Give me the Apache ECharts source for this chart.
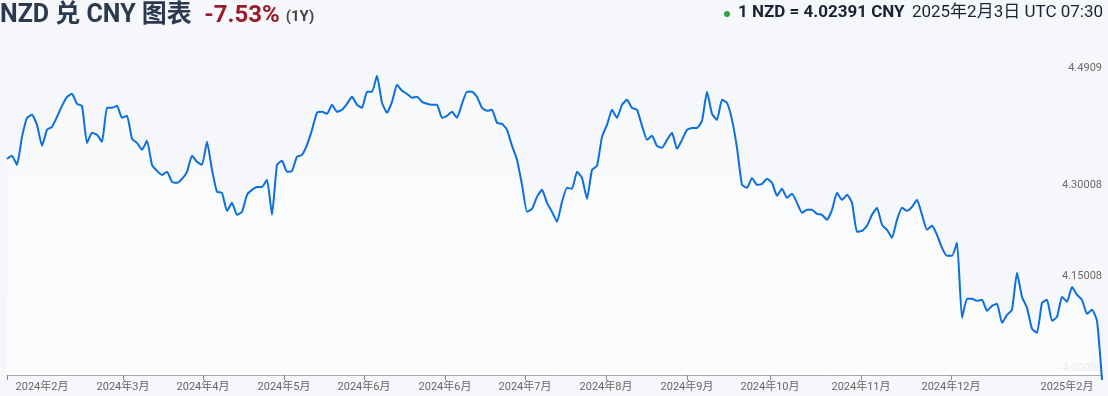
<!DOCTYPE html>
<html>
<head>
<meta charset="utf-8">
<script src="https://cdn.jsdelivr.net/npm/echarts@6/dist/echarts.min.js"></script>
<style>
html,body{margin:0;padding:0;background:#f5f7fa;}
#chart{width:1108px;height:396px;}
</style>
</head>
<body>
<div id="chart"></div>
<script>
// NZD -> CNY rate, one reading per step across the year
const rates = [
4.3402,4.3451,4.3304,4.3761,4.4072,4.4121,4.3957,4.3614,4.3876,4.3925,
4.4088,4.4268,4.4415,4.4464,4.4301,4.4268,4.3663,4.3827,4.3794,4.3680,
4.4235,4.4235,4.4268,4.4072,4.4105,4.3729,4.3663,4.3549,4.3696,4.3304,
4.3206,4.3140,4.3190,4.3026,4.3010,4.3075,4.3190,4.3451,4.3353,4.3304,
4.3680,4.3222,4.2863,4.2846,4.2552,4.2683,4.2487,4.2536,4.2814,4.2895,
4.2944,4.2944,4.3059,4.2487,4.3304,4.3369,4.3190,4.3206,4.3435,4.3467,
4.3631,4.3876,4.4154,4.4170,4.4137,4.4284,4.4170,4.4203,4.4301,4.4415,
4.4284,4.4235,4.4497,4.4497,4.4758,4.4317,4.4154,4.4333,4.4611,4.4513,
4.4464,4.4399,4.4415,4.4333,4.4301,4.4284,4.4284,4.4072,4.4105,4.4170,
4.4072,4.4301,4.4497,4.4497,4.4415,4.4235,4.4186,4.4203,4.3990,4.3974,
4.3876,4.3614,4.3386,4.2977,4.2536,4.2585,4.2781,4.2895,4.2683,4.2536,
4.2373,4.2699,4.2928,4.2912,4.3190,4.3091,4.2748,4.3222,4.3288,4.3761,
4.3957,4.4203,4.4072,4.4284,4.4366,4.4235,4.4203,4.3941,4.3712,4.3778,
4.3614,4.3582,4.3712,4.3827,4.3565,4.3712,4.3876,4.3908,4.3908,4.4023,
4.4497,4.4137,4.4039,4.4366,4.4317,4.4039,4.3582,4.2977,4.2928,4.3091,
4.2977,4.2993,4.3075,4.3010,4.2797,4.2912,4.2765,4.2830,4.2683,4.2520,
4.2569,4.2569,4.2503,4.2487,4.2405,4.2569,4.2846,4.2732,4.2814,4.2683,
4.2209,4.2225,4.2307,4.2487,4.2601,4.2323,4.2242,4.2111,4.2405,4.2601,
4.2552,4.2618,4.2732,4.2487,4.2242,4.2307,4.2160,4.1948,4.1817,4.1817,
4.2029,4.0804,4.1114,4.1114,4.1082,4.1098,4.0918,4.1000,4.1033,4.0722,
4.0853,4.0935,4.1539,4.1147,4.0967,4.0624,4.0559,4.1049,4.1098,4.0755,
4.0820,4.1147,4.1065,4.1310,4.1180,4.1098,4.0869,4.0935,4.0755,3.9791
];

const yTickValues = [4.00008, 4.15008, 4.30008, 4.4909];
const yTickLabels = ['4.00008', '4.15008', '4.30008', '4.4909'];

const xTickPos = [0, 23.2, 39.2, 55.4, 71.4, 87.6, 103.6, 119.8, 136, 152.6, 170.8, 188.8, 219];
const xLabelPos = [7, 23.2, 39.2, 55.4, 71.4, 87.6, 103.6, 119.8, 136, 152.6, 170.8, 188.8, 212];
const xLabels = ['2024年2月','2024年3月','2024年4月','2024年5月','2024年6月','2024年6月','2024年7月','2024年8月','2024年9月','2024年10月','2024年11月','2024年12月','2025年2月'];

const titleMain = 'NZD 兑 CNY 图表';
const changeText = '-7.53%';
const periodText = '(1Y)';
const quoteText = '1 NZD = 4.02391 CNY';
const timeText = '2025年2月3日 UTC 07:30';

function nearestIdx(arr, v) {
  let best = 0;
  for (let i = 1; i < arr.length; i++) if (Math.abs(arr[i] - v) < Math.abs(arr[best] - v)) best = i;
  return best;
}

const FONT = 'Roboto, "Noto Sans CJK SC", sans-serif';
const chart = echarts.init(document.getElementById('chart'), null, {renderer: 'canvas'});
chart.setOption({
  backgroundColor: '#f5f7fa',
  animation: false,
  textStyle: {fontFamily: FONT},
  title: {
    left: 0, top: 3, padding: 0,
    text: '{a|' + titleMain + '  }{b|' + changeText + ' }{c|' + periodText + '}',
    textStyle: {
      rich: {
        a: {fontSize: 25, fontWeight: 'bold', color: '#2b3a4e', fontFamily: FONT},
        b: {fontSize: 24, color: '#9b1b2b', fontFamily: FONT},
        c: {fontSize: 15, color: '#444', fontFamily: FONT, padding: [4, 0, 0, 0]}
      }
    }
  },
  graphic: [
    {type: 'circle', shape: {cx: 727, cy: 14, r: 3}, style: {fill: '#2ea844'}},
    {type: 'text', left: 738, top: 4, style: {text: quoteText, font: 'bold 17px ' + FONT, fill: '#1b2233'}},
    {type: 'text', right: 5, top: 4, style: {text: timeText, font: '17px ' + FONT, fill: '#1b2233'}}
  ],
  grid: {left: 7, right: 6, top: 45, bottom: 21},
  xAxis: {
    type: 'value', min: 0, max: rates.length - 1,
    splitLine: {show: false},
    axisLine: {show: true, lineStyle: {color: '#a9a9a9', width: 1}},
    axisTick: {show: true, length: 5, customValues: xTickPos, lineStyle: {color: '#8a8a8a'}},
    axisLabel: {
      customValues: xLabelPos, margin: 7, fontSize: 11, color: '#666',
      formatter: v => xLabels[nearestIdx(xLabelPos, v)]
    }
  },
  yAxis: {
    type: 'value', position: 'right', min: 3.98701, max: 4.52622, scale: true,
    splitLine: {show: false}, axisLine: {show: false}, axisTick: {show: false},
    axisLabel: {
      inside: true, margin: 0,
      customValues: yTickValues,
      formatter: v => {
        const k = nearestIdx(yTickValues, v);
        return '{' + (k === 0 ? 'f' : 'n') + '|' + yTickLabels[k] + '}';
      },
      rich: {
        n: {fontSize: 11, color: '#6b6b6b', padding: [3, 0, 0, 0]},
        f: {fontSize: 11, color: '#c4c4c4', padding: [3, 0, 0, 0]}
      }
    }
  },
  series: [{
    type: 'line',
    data: rates.map((v, i) => [i, v]),
    showSymbol: false,
    clip: false,
    smooth: 0.15,
    lineStyle: {color: '#0b6fdc', width: 2},
    areaStyle: {
      origin: 'start',
      color: new echarts.graphic.LinearGradient(0, 0, 0, 1, [
        {offset: 0, color: 'rgba(255,255,255,0.45)'},
        {offset: 1, color: 'rgba(255,255,255,0.95)'}
      ])
    }
  }]
});
</script>
</body>
</html>
